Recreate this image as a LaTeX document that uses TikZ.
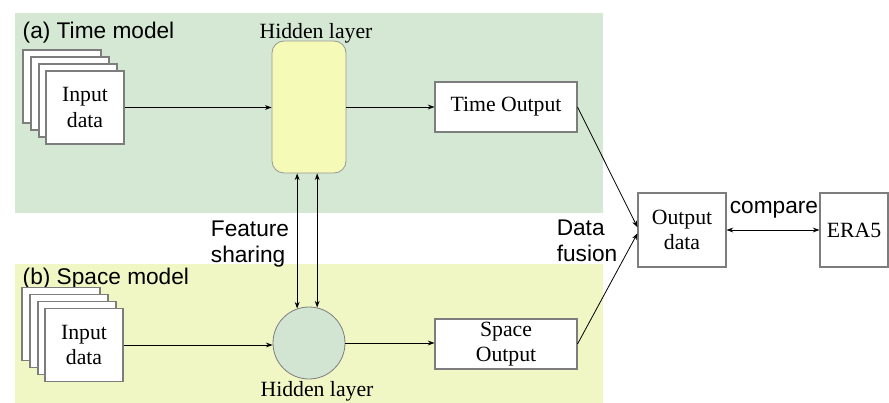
\documentclass[tikz,border=0pt]{standalone}
\usepackage{fontspec}
\setmainfont{Liberation Serif}
\setsansfont{Liberation Sans}
\usetikzlibrary{arrows.meta}
\definecolor{timebg}{RGB}{213,232,212}
\definecolor{spacebg}{RGB}{240,247,196}
\definecolor{hidyel}{RGB}{245,250,182}
\definecolor{hidgrn}{RGB}{210,229,210}
\definecolor{edge}{RGB}{125,125,125}
\begin{document}
\begin{tikzpicture}[x=0.75pt,y=-0.75pt,
  serif/.style={font=\fontsize{16.3}{19}\selectfont},
  sans/.style={font=\sffamily\fontsize{17}{19.5}\selectfont},
  box/.style={draw=edge, fill=white, line width=0.8pt, inner sep=0pt, align=center, serif},
  sheet/.style={box, minimum width=58.5pt, minimum height=54.75pt},
  arr/.style={-{Stealth[length=5pt,width=3.6pt]}, line width=0.6pt},
  dbl/.style={{Stealth[length=5pt,width=3.6pt]}-{Stealth[length=5pt,width=3.6pt]}, line width=0.6pt}]
\useasboundingbox (0,0) rectangle (889,403);

% model panels
\fill[timebg] (15,13) rectangle (603,213);
\fill[spacebg] (15,264) rectangle (603,403);
\node[sans, anchor=west] (ta) at (18,33) {(a) Time model};
\node[sans, anchor=west] (sb) at (18,279) {(b) Space model};

% time model: stacked input sheets
\node[sheet] (ta1) at (62,86.5) {};
\node[sheet] (ta2) at (70,93.5) {};
\node[sheet] (ta3) at (78,100.5) {};
\node[sheet] (inA) at (85,107.5) {Input\\data};

% space model: stacked input sheets
\node[sheet] (sa1) at (61,324) {};
\node[sheet] (sa2) at (69,331) {};
\node[sheet] (sa3) at (77,338) {};
\node[sheet] (inB) at (84,345) {Input\\data};

% hidden layers
\node[draw=edge!80, fill=hidyel, rounded corners=9pt, line width=0.6pt,
      minimum width=55.5pt, minimum height=99pt] (hidA) at (309,107) {};
\node[serif] (hidAlab) at (316,33) {Hidden layer};
\node[circle, draw=edge, fill=hidgrn, line width=0.6pt, inner sep=0pt,
      minimum size=54pt] (hidB) at (309,343) {};
\node[serif] (hidBlab) at (317,391) {Hidden layer};

% outputs
\node[box, minimum width=106.5pt, minimum height=37.5pt] (tout) at (506,107) {Time Output};
\node[box, minimum width=106.5pt, minimum height=37.5pt] (sout) at (506,344) {Space\\Output};
\node[box, minimum width=66pt, minimum height=55.5pt] (outd) at (682,230) {Output\\data};
\node[box, minimum width=51pt, minimum height=55.5pt] (era) at (854,230) {ERA5};

% labels
\node[sans, align=left] (fs) at (250,244) {Feature\\sharing};
\node[sans, align=left] (df) at (587,241) {Data\\fusion};
\node[sans] (cmp) at (774,210) {compare};

% connectors
\draw[arr] (inA.east) -- (inA.east -| hidA.west);
\draw[arr] (inB.east) -- (inB.east -| hidB.west);
\draw[arr] (hidA.east) -- (tout.west);
\draw[arr] (hidB.east) -- (hidB.east -| sout.west);
\draw[dbl] (hidB.109.5) -- (hidB.109.5 |- hidA.south);
\draw[dbl] (hidB.77.2) -- (hidB.77.2 |- hidA.south);
\draw[arr] (tout.east) -- ([yshift=2pt]outd.west);
\draw[arr] (sout.east) -- ([yshift=-2.5pt]outd.west);
\draw[dbl] (outd.east) -- (era.west);
\end{tikzpicture}
\end{document}
